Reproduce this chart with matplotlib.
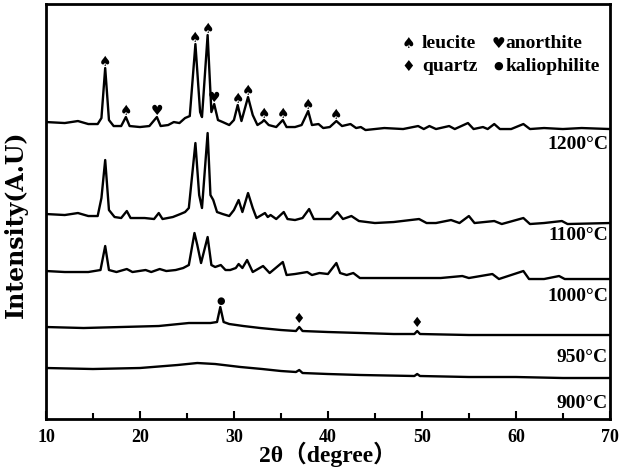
import matplotlib

matplotlib.use("Agg")

import matplotlib.pyplot as plt
from matplotlib.ticker import MultipleLocator

# 2theta / intensity points (arbitrary units)
tt_1200 = [10.0, 12.0, 13.4, 14.5, 15.5, 15.9, 16.3, 16.7, 17.2, 18.0, 18.5, 18.9, 20.0, 21.0,
           21.8, 22.2, 23.0, 23.6, 24.2, 24.8, 25.3, 25.9, 26.4, 26.6, 27.2, 27.6, 27.9, 28.3,
           28.8, 29.5, 30.0, 30.4, 30.8, 31.5, 32.0, 32.5, 33.0, 33.2, 33.7, 34.5, 35.2, 35.6,
           36.5, 37.2, 37.9, 38.3, 39.0, 39.5, 40.2, 40.9, 41.5, 42.4, 43.0, 43.5, 44.0, 46.0,
           48.0, 49.6, 50.2, 50.8, 51.5, 52.9, 53.5, 54.9, 55.5, 56.5, 57.0, 57.7, 58.3, 59.5,
           60.8, 61.5, 63.0, 65.0, 67.0, 70.0]
i_1200 = [297, 296, 298, 295, 295, 301, 351, 299, 293, 293, 302, 293, 292, 293,
          302, 293, 294, 297, 296, 301, 303, 375, 307, 302, 384, 307, 315, 299,
          297, 294, 299, 314, 298, 322, 304, 294, 297, 299, 294, 292, 299, 292,
          292, 294, 308, 294, 295, 291, 292, 298, 293, 295, 291, 292, 289, 291,
          290, 293, 290, 293, 290, 293, 290, 296, 290, 292, 290, 295, 290, 290,
          295, 290, 291, 290, 291, 290]

tt_1100 = [10.0, 12.0, 13.4, 14.5, 15.5, 15.9, 16.3, 16.7, 17.3, 18.0, 18.6, 19.0, 20.5, 21.5,
           22.0, 22.4, 23.5, 24.3, 24.8, 25.2, 25.9, 26.3, 26.6, 27.2, 27.5, 27.8, 28.2, 28.8,
           29.5, 30.0, 30.5, 30.9, 31.5, 32.0, 32.4, 33.3, 33.6, 33.9, 34.5, 35.3, 35.7, 36.5,
           37.3, 38.0, 38.5, 39.5, 40.3, 41.0, 41.6, 42.5, 43.3, 45.0, 47.0, 49.7, 50.5, 51.5,
           53.1, 54.0, 55.0, 55.6, 57.7, 58.5, 60.8, 61.5, 63.0, 64.9, 65.5, 70.0]
i_1100 = [205, 204, 206, 203, 203, 221, 259, 209, 202, 201, 208, 201, 201, 200,
          206, 200, 202, 205, 207, 211, 276, 224, 211, 286, 224, 219, 207, 205,
          203, 209, 219, 207, 226, 211, 201, 206, 202, 204, 200, 207, 200, 199,
          201, 210, 200, 200, 200, 207, 200, 203, 198, 196, 197, 200, 196, 196,
          199, 196, 203, 196, 198, 195, 201, 195, 196, 198, 195, 196]

tt_1000 = [10.0, 12.0, 14.5, 15.8, 16.3, 16.7, 17.5, 18.6, 19.2, 20.6, 21.2, 22.1, 22.8, 23.8,
           24.6, 25.2, 25.8, 26.1, 26.5, 27.2, 27.6, 28.0, 28.6, 29.1, 29.6, 30.2, 30.5, 30.9,
           31.4, 32.0, 33.1, 33.8, 35.2, 35.6, 36.5, 37.8, 38.3, 39.1, 40.0, 40.9, 41.3, 42.0,
           42.7, 43.4, 46.0, 48.7, 50.0, 52.0, 54.3, 55.0, 57.5, 58.2, 60.8, 61.4, 63.0, 64.6,
           65.2, 70.0]
i_1000 = [148, 147, 147, 149, 173, 149, 147, 150, 147, 149, 147, 150, 148, 149,
          151, 154, 186, 174, 156, 182, 154, 152, 154, 149, 149, 151, 155, 151,
          159, 147, 153, 146, 157, 144, 145, 147, 144, 146, 145, 156, 146, 144,
          146, 141, 141, 141, 141, 141, 143, 141, 145, 140, 148, 140, 140, 143,
          140, 140]

tt_950 = [10, 14, 18, 22, 25.2, 27.5, 28.2, 28.55, 28.9, 29.5, 31, 32.8, 35, 36.6, 36.95, 37.3,
          40, 43.5, 47, 49.2, 49.5, 49.8, 55, 60, 65, 70]
i_950 = [92, 91, 92, 93, 96, 96, 97, 112, 97, 95, 93, 91, 89, 88, 92, 88,
         87, 86, 85, 85, 88, 85, 84, 84, 84, 84]

tt_900 = [10, 15, 20, 24, 26.1, 28, 30.7, 33, 35, 36.6, 36.95, 37.3, 40, 43.5, 49.2, 49.5, 49.8,
          55, 60, 65, 70]
i_900 = [51, 50, 51, 54, 56, 55, 52, 50, 48, 47, 49, 46, 45, 44, 43, 45, 43,
         42, 42, 41, 41]

curves = [(tt_1200, i_1200), (tt_1100, i_1100), (tt_1000, i_1000), (tt_950, i_950), (tt_900, i_900)]
temps = ["1200°C", "1100°C", "1000°C", "950°C", "900°C"]
temp_label_y = [275, 184, 123, 62, 16]

# phase markers (peak positions / peak tops)
leucite_x = [16.3, 18.5, 25.9, 27.2, 30.4, 31.5, 33.2, 35.2, 37.9, 40.9]
leucite_y = [351, 302, 375, 384, 314, 322, 299, 299, 308, 298]
anorthite_x = [21.8, 27.9]
anorthite_y = [302, 315]
kalio_x = [28.55]
kalio_y = [112]
quartz_x = [36.95, 49.5]
quartz_y = [92, 88]

serif = ["Liberation Serif", "Noto Sans CJK SC"]
sym = ["DejaVu Sans"]

fig = plt.figure(figsize=(6.3, 4.71), dpi=100)
ax = fig.add_axes([0.073, 0.1104, 0.895, 0.881])

for tt, ii in curves:
    ax.plot(tt, ii, color="black", lw=1.7)

for x, y in zip(leucite_x, leucite_y):
    ax.annotate("♠", (x, y), xytext=(0, -1), textcoords="offset points",
                ha="center", va="bottom", fontsize=10, family=sym)
for x, y in zip(anorthite_x, anorthite_y):
    ax.annotate("♥", (x, y), xytext=(0, -1), textcoords="offset points",
                ha="center", va="bottom", fontsize=10, family=sym)
for x, y in zip(kalio_x, kalio_y):
    ax.annotate("●", (x, y), xytext=(0, 1), textcoords="offset points",
                ha="center", va="bottom", fontsize=7, family=sym)
for x, y in zip(quartz_x, quartz_y):
    ax.annotate("♦", (x, y), xytext=(0, 1), textcoords="offset points",
                ha="center", va="bottom", fontsize=10, family=sym)

for t, y in zip(temps, temp_label_y):
    ax.text(69.8, y, t, ha="right", va="center", fontsize=14, fontweight="bold", family=serif)

# legend drawn as text
ax.text(48.6, 376, "♠", ha="center", va="center", fontsize=11, family=sym)
ax.text(50.0, 376, "leucite", ha="left", va="center", fontsize=14, fontweight="bold", family=serif)
ax.text(58.1, 376, "♥", ha="center", va="center", fontsize=11, family=sym)
ax.text(58.9, 376, "anorthite", ha="left", va="center", fontsize=14, fontweight="bold", family=serif)
ax.text(48.6, 353, "♦", ha="center", va="center", fontsize=11, family=sym)
ax.text(50.0, 353, "quartz", ha="left", va="center", fontsize=14, fontweight="bold", family=serif)
ax.text(58.1, 353, "●", ha="center", va="center", fontsize=8, family=sym)
ax.text(58.9, 353, "kaliophilite", ha="left", va="center", fontsize=14, fontweight="bold", family=serif)

ax.set_xlim(10, 70)
ax.set_ylim(0, 415)
ax.set_yticks([])
ax.xaxis.set_major_locator(MultipleLocator(10))
ax.xaxis.set_minor_locator(MultipleLocator(5))
ax.tick_params(axis="x", which="major", direction="in", length=6, width=1.5, pad=7)
ax.tick_params(axis="x", which="minor", direction="in", length=4, width=1.5)
for lab in ax.get_xticklabels():
    lab.set_fontfamily(serif)
    lab.set_fontweight("bold")
    lab.set_fontsize(13)
for s in ax.spines.values():
    s.set_linewidth(2)

ax.set_xlabel("2θ（degree）", fontsize=17, fontweight="bold", family=serif, labelpad=-3)
ax.set_ylabel("Intensity(A.U)", fontsize=17, fontweight="bold", family=["DejaVu Serif"])
ax.yaxis.set_label_coords(-0.032, 0.47)

fig.savefig("out.png", dpi=100)
